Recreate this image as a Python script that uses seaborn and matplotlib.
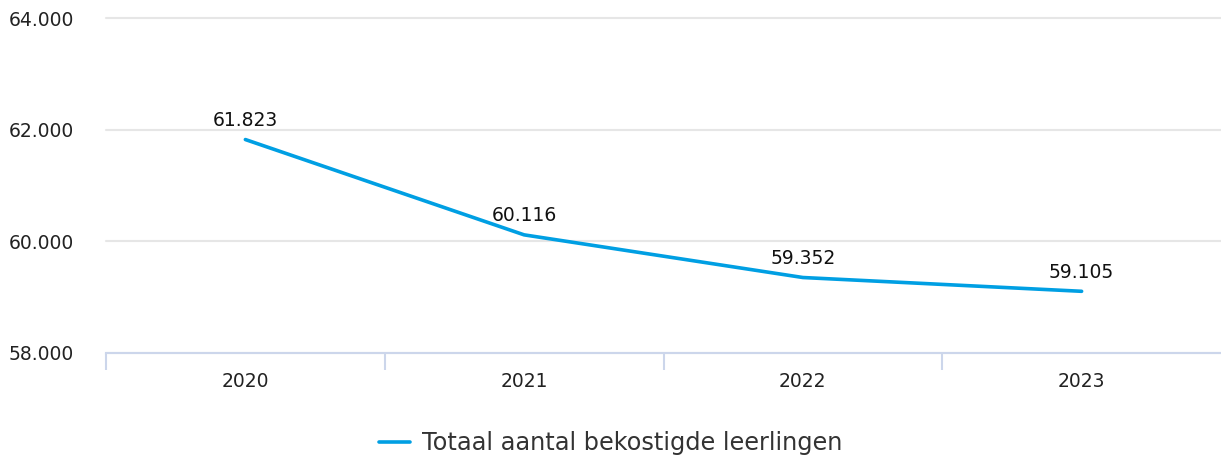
import pandas as pd
import matplotlib.pyplot as plt
import seaborn as sns

# data
jaren = ["2020", "2021", "2022", "2023"]
leerlingen = [61823, 60116, 59352, 59105]
reeks = "Totaal aantal bekostigde leerlingen"

df = pd.DataFrame({"jaar": jaren, "aantal": leerlingen})

sns.set_style("white")
plt.rcParams['font.family'] = ['DejaVu Sans']

fig = plt.figure(figsize=(12.21, 4.59), dpi=100)
ax = fig.add_axes([106 / 1221, 1 - 353 / 459, 1 - 106 / 1221, (353 - 18) / 459])

sns.lineplot(data=df, x="jaar", y="aantal", color="#009fe3", linewidth=2.6,
             ax=ax, label=reeks, sort=False)

def fmt(v):
    return f"{v:,}".replace(",", ".")

for i, v in enumerate(leerlingen):
    ax.annotate(fmt(v), (i, v), xytext=(0, 7), textcoords="offset points",
                ha="center", va="bottom", fontsize=13.5, color="#111111")

ax.set_xlim(-0.5, 3.5)
ax.set_ylim(58000, 64000)
ax.set_yticks([58000, 60000, 62000, 64000])
ax.set_yticklabels([fmt(t) for t in [58000, 60000, 62000, 64000]])
ax.yaxis.grid(True, color="#e6e6e6", linewidth=1.5)
for gl in ax.get_ygridlines():
    gl.set_clip_on(False)
ax.set_axisbelow(True)

ax.set_xticks(range(len(jaren)))
ax.set_xticklabels(jaren)
ax.set_xticks([-0.5, 0.5, 1.5, 2.5], minor=True)
ax.tick_params(axis="x", which="both", bottom=True)
ax.tick_params(axis="x", which="major", length=0, pad=14, labelsize=13.5, labelcolor="#222222")
ax.tick_params(axis="x", which="minor", length=12, width=1.5, color="#ccd6eb")
ax.tick_params(axis="y", length=0, pad=23, labelsize=13.5, labelcolor="#222222")

for s in ["top", "right", "left"]:
    ax.spines[s].set_visible(False)
ax.spines["bottom"].set_color("#ccd6eb")
ax.spines["bottom"].set_linewidth(1.5)

ax.set_xlabel("")
ax.set_ylabel("")

ax.legend(loc="center", bbox_to_anchor=(0.5, (459 - 443) / 459), bbox_transform=fig.transFigure,
          frameon=False, fontsize=17.3, handlelength=1.3, handletextpad=0.5,
          labelcolor="#333333")

plt.savefig("out.png", dpi=100)
plt.close()
